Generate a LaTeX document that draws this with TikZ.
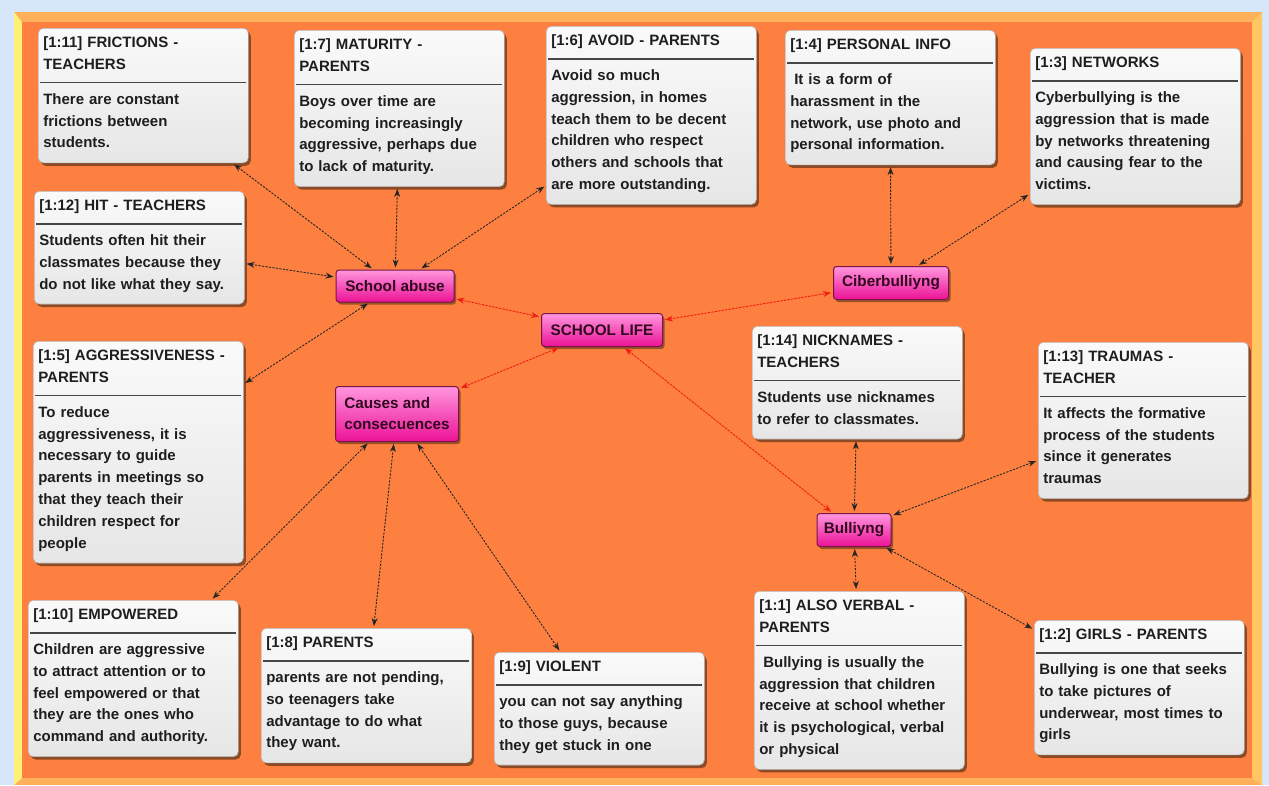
\documentclass[tikz,border=0pt]{standalone}
\usepackage{fontspec}
\setmainfont{Liberation Sans}
\newfontfamily\cardfont{Liberation Sans}
\usetikzlibrary{arrows.meta,shadows}
\definecolor{bgblue}{RGB}{214,231,249}
\definecolor{frameor}{RGB}{255,176,90}
\definecolor{frameyel}{RGB}{255,240,120}
\definecolor{frameright}{RGB}{255,198,98}
\definecolor{orbg}{RGB}{253,128,64}
\definecolor{cardtop}{RGB}{250,250,250}
\definecolor{cardbot}{RGB}{230,230,230}
\definecolor{cardline}{RGB}{185,185,185}
\definecolor{rulegray}{RGB}{70,70,70}
\definecolor{txt}{RGB}{30,30,30}
\definecolor{pinktop}{RGB}{255,150,222}
\definecolor{pinkbot}{RGB}{236,18,150}
\definecolor{pinkline}{RGB}{120,20,70}
\definecolor{pinktxt}{RGB}{50,8,32}
\definecolor{redarrow}{RGB}{240,30,20}
\newcommand\topstrut{\rule{0pt}{12pt}}
\newcommand\botstrut{\rule[-8pt]{0pt}{8pt}}
\newcommand\sepline{\par\vspace{-7.5pt}\noindent\hspace*{-3pt}\textcolor{rulegray}{\rule{\dimexpr\linewidth+6pt\relax}{1.4pt}}\par\vspace{-1pt}}
\tikzset{
  card/.style={anchor=north west, draw=cardline, line width=0.6pt, rounded corners=5pt,
    top color=cardtop, bottom color=cardbot, text width=200pt, inner xsep=5pt, inner ysep=7pt,
    align=left, font=\cardfont\bfseries\fontsize{15}{21.8}\selectfont, text=txt,
    drop shadow={shadow xshift=2.5pt, shadow yshift=-3pt, fill=black!75!brown, opacity=0.55}},
  pinknode/.style={draw=pinkline, line width=1pt, rounded corners=3pt,
    top color=pinktop, bottom color=pinkbot, text=pinktxt, inner sep=0pt,
    font=\cardfont\bfseries\fontsize{15.3}{21}\selectfont,
    drop shadow={shadow xshift=2pt, shadow yshift=-2.5pt, fill=black!70!brown, opacity=0.5}},
  blk/.style={dash pattern=on 2.2pt off 1.3pt, line width=0.9pt, draw=black!85,
    {Stealth[length=8pt,width=6pt]}-{Stealth[length=8pt,width=6pt]}, shorten <=2pt, shorten >=2pt},
  redl/.style={blk, draw=redarrow, fill=redarrow}
}
\begin{document}
\begin{tikzpicture}[x=1pt,y=-1pt]
\useasboundingbox (0,0) rectangle (1269,785);
% frame
\fill[bgblue] (0,0) rectangle (1269,785);
\fill[frameor] (14,12) rectangle (1262,785);
\fill[frameyel] (14,12) -- (22,22) -- (22,778) -- (14,785) -- cycle;
\fill[frameright] (1262,12) -- (1252,22) -- (1252,778) -- (1262,785) -- cycle;
\fill[orbg] (22,22) rectangle (1252,778);

% cards
\node[card] (n11) at (38,28) {\topstrut[1:11] FRICTIONS -\\TEACHERS\sepline There are constant\\frictions between\\students.\botstrut};
\node[card] (n7) at (294,30) {\topstrut[1:7] MATURITY -\\PARENTS\sepline Boys over time are\\becoming increasingly\\aggressive, perhaps due\\to lack of maturity.\botstrut};
\node[card] (n6) at (546,26) {\topstrut[1:6] AVOID - PARENTS\sepline Avoid so much\\aggression, in homes\\teach them to be decent\\children who respect\\others and schools that\\are more outstanding.\botstrut};
\node[card] (n4) at (785,30) {\topstrut[1:4] PERSONAL INFO\sepline \hspace*{4pt}It is a form of\\harassment in the\\network, use photo and\\personal information.\botstrut};
\node[card] (n3) at (1030,48) {\topstrut[1:3] NETWORKS\sepline Cyberbullying is the\\aggression that is made\\by networks threatening\\and causing fear to the\\victims.\botstrut};
\node[card] (n12) at (34,191) {\topstrut[1:12] HIT - TEACHERS\sepline Students often hit their\\classmates because they\\do not like what they say.\botstrut};
\node[card] (n5) at (33,341) {\topstrut[1:5] AGGRESSIVENESS -\\PARENTS\sepline To reduce\\aggressiveness, it is\\necessary to guide\\parents in meetings so\\that they teach their\\children respect for\\people\botstrut};
\node[card] (n14) at (752,326) {\topstrut[1:14] NICKNAMES -\\TEACHERS\sepline Students use nicknames\\to refer to classmates.\botstrut};
\node[card] (n13) at (1038,342) {\topstrut[1:13] TRAUMAS -\\TEACHER\sepline It affects the formative\\process of the students\\since it generates\\traumas\botstrut};
\node[card] (n10) at (28,600) {\topstrut[1:10] EMPOWERED\sepline Children are aggressive\\to attract attention or to\\feel empowered or that\\they are the ones who\\command and authority.\botstrut};
\node[card] (n8) at (261,628) {\topstrut[1:8] PARENTS\sepline parents are not pending,\\so teenagers take\\advantage to do what\\they want.\botstrut};
\node[card] (n9) at (494,652) {\topstrut[1:9] VIOLENT\sepline you can not say anything\\to those guys, because\\they get stuck in one\botstrut};
\node[card] (n1) at (754,591) {\topstrut[1:1] ALSO VERBAL -\\PARENTS\sepline \hspace*{4pt}Bullying is usually the\\aggression that children\\receive at school whether\\it is psychological, verbal\\or physical\botstrut};
\node[card] (n2) at (1034,620) {\topstrut[1:2] GIRLS - PARENTS\sepline Bullying is one that seeks\\to take pictures of\\underwear, most times to\\girls\botstrut};

% pink nodes
\node[pinknode, minimum width=118pt, minimum height=32pt] (sa) at (395,286) {School abuse};
\node[pinknode, minimum width=121pt, minimum height=33pt] (sl) at (602,330) {SCHOOL LIFE};
\node[pinknode, minimum width=115pt, minimum height=33pt] (cb) at (891,283) {Ciberbulliyng};
\node[pinknode, minimum width=123pt, minimum height=55pt, align=left] (cc) at (397,414) {Causes and\\consecuences};
\node[pinknode, minimum width=74pt, minimum height=33pt] (bu) at (854,530) {Bulliyng};

% connectors
\draw[blk] (n11) -- (sa);
\draw[blk] (n7) -- (sa);
\draw[blk] (n6) -- (sa);
\draw[blk] (n12) -- (sa);
\draw[blk] (n5) -- (sa);
\draw[redl] (sa) -- (sl);
\draw[redl] (sl) -- (cb);
\draw[redl] (sl) -- (cc);
\draw[redl] (sl) -- (bu);
\draw[blk] (n4) -- (cb);
\draw[blk] (n3) -- (cb);
\draw[blk] (cc) -- (n10);
\draw[blk] (cc) -- (n8);
\draw[blk] (cc) -- (n9);
\draw[blk] (n14) -- (bu);
\draw[blk] (n13) -- (bu);
\draw[blk] (bu) -- (n1);
\draw[blk] (bu) -- (n2);
\end{tikzpicture}
\end{document}
